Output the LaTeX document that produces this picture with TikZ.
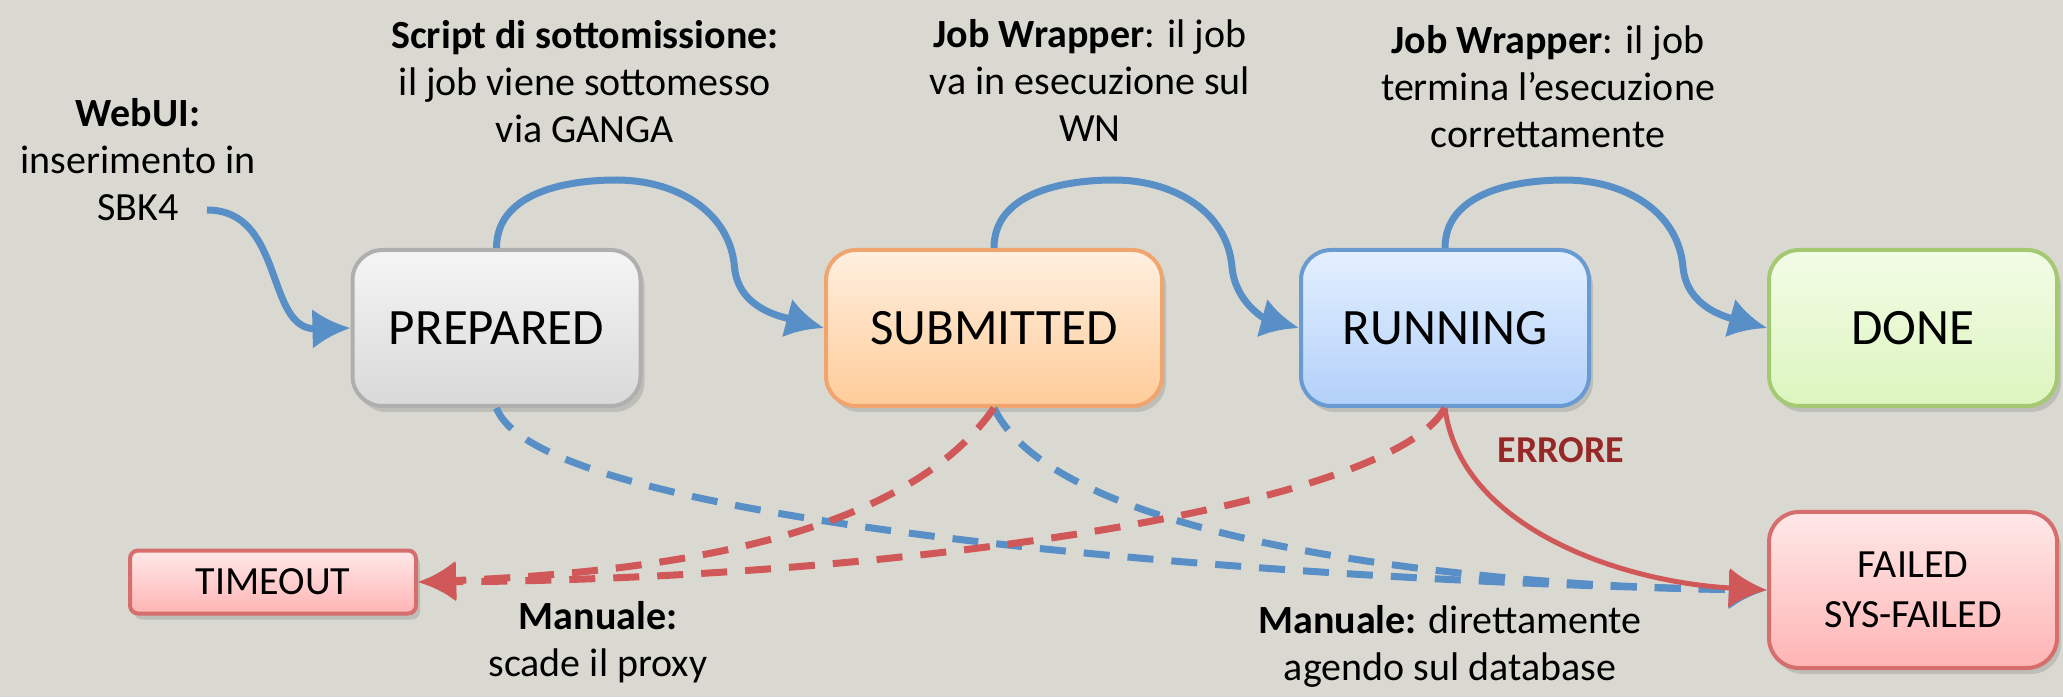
\documentclass[tikz,border=0pt]{standalone}
\usepackage{fontspec}
\setmainfont{Carlito}
\usepackage{tikz}
\usetikzlibrary{positioning}
\usetikzlibrary{arrows.meta,shadows}
\definecolor{sfondo}{RGB}{218,217,209}
\definecolor{bluefreccia}{RGB}{88,143,198}
\definecolor{rossofreccia}{RGB}{208,88,88}
\definecolor{rossoscuro}{RGB}{150,40,40}
\definecolor{bordogrigio}{RGB}{175,175,175}
\definecolor{bordoarancio}{RGB}{240,165,110}
\definecolor{bordoblu}{RGB}{105,155,210}
\definecolor{bordoverde}{RGB}{165,200,115}
\definecolor{bordorosso}{RGB}{215,110,110}
\definecolor{bluchiaro}{RGB}{228,240,255}
\definecolor{blumedio}{RGB}{178,208,250}
\definecolor{verdechiaro}{RGB}{243,252,230}
\definecolor{verdemedio}{RGB}{220,245,190}
\definecolor{rosachiaro}{RGB}{255,232,232}
\definecolor{rosamedio}{RGB}{255,180,180}

\begin{document}
\begin{tikzpicture}[x=0.5pt,y=0.5pt,
  stato/.style = {shape=rectangle, rounded corners=15pt,
    draw, line width=2pt, align=center, inner sep=0pt,
    minimum width=144pt, minimum height=78pt,
    font=\fontsize{25.5}{30}\selectfont,
    drop shadow={shadow xshift=2pt, shadow yshift=-3pt, opacity=0.3}},
  errore/.style = {stato, draw=bordorosso,
    top color=rosachiaro, bottom color=rosamedio,
    font=\fontsize{20}{25}\selectfont},
  nota/.style = {align=center, font=\fontsize{20}{23.5}\selectfont},
  avanza/.style = {->, draw=bluefreccia, line width=3.5pt},
  manuale/.style = {->, draw=bluefreccia, line width=3.5pt, dash pattern=on 13pt off 9pt},
  scade/.style = {->, draw=rossofreccia, line width=3.5pt, dash pattern=on 13pt off 9pt},
  guasto/.style = {->, draw=rossofreccia, line width=2.5pt},
  >={Latex[length=19pt,width=20pt]}
  ]
  \useasboundingbox (0,0) rectangle (2063,697);
  \fill[sfondo] (0,0) rectangle (2063,697);

  \node[stato, draw=bordogrigio, top color=gray!8, bottom color=gray!30]
    (prep) at (496.5,369) {PREPARED};
  \node[stato, draw=bordoarancio, top color=orange!12!white, bottom color=orange!40!white,
    minimum width=168pt, right=90.75pt of prep] (sub) {SUBMITTED};
  \node[stato, draw=bordoblu, top color=bluchiaro, bottom color=blumedio,
    right=67.5pt of sub] (run) {RUNNING};
  \node[stato, draw=bordoverde, top color=verdechiaro, bottom color=verdemedio,
    right=88pt of run] (done) {DONE};
  \node[errore, below=51pt of done] (failed) {FAILED\\SYS-FAILED};
  \node[errore, rounded corners=4pt, minimum width=143pt, minimum height=31.5pt]
    (timeout) at (273,115) {TIMEOUT};

  \node[nota] (webui) at (138,537) {\textbf{WebUI:}\\inserimento in\\SBK4};
  \node[nota] (script) at (585,615) {\textbf{Script di sottomissione:}\\il job viene sottomesso\\via GANGA};
  \node[nota] (wrapper) at (1090,617) {\textbf{Job Wrapper}: il job\\va in esecuzione sul\\WN};
  \node[nota] (fine) at (1548,610) {\textbf{Job Wrapper}: il job\\termina l'esecuzione\\correttamente};
  \node[nota] (proxy) at (598,55) {\textbf{Manuale:}\\scade il proxy};
  \node[nota] (database) at (1450,51) {\textbf{Manuale:} direttamente\\agendo sul database};
  \node[font=\bfseries\fontsize{19}{23}\selectfont, text=rossoscuro] (errlabel) at (1561,247) {ERRORE};

  \coordinate (ingresso) at (207,487);
  \draw[avanza] (ingresso) .. controls (285,487) and (265,367) .. (prep.west);
  \foreach \da/\a in {prep/sub, sub/run, run/done}
    \draw[avanza] (\da.north) to[out=90,in=180] ++(120,68)
      to[out=0,in=95] ++(118,-87) to[out=-85,in=165] (\a.west);

  \draw[manuale] (prep.south) .. controls (540,170) and (1300,115) .. (failed.west);
  \draw[manuale] (sub.south) .. controls (1060,150) and (1500,110) .. (failed.west);
  \draw[scade] (sub.south) .. controls (904,160) and (668,125) .. (timeout.east);
  \draw[scade] (run.south) .. controls (1390,190) and (900,118) .. (timeout.east);
  \draw[guasto] (run.south) .. controls (1460,170) and (1620,115) .. (failed.west);
\end{tikzpicture}
\end{document}
